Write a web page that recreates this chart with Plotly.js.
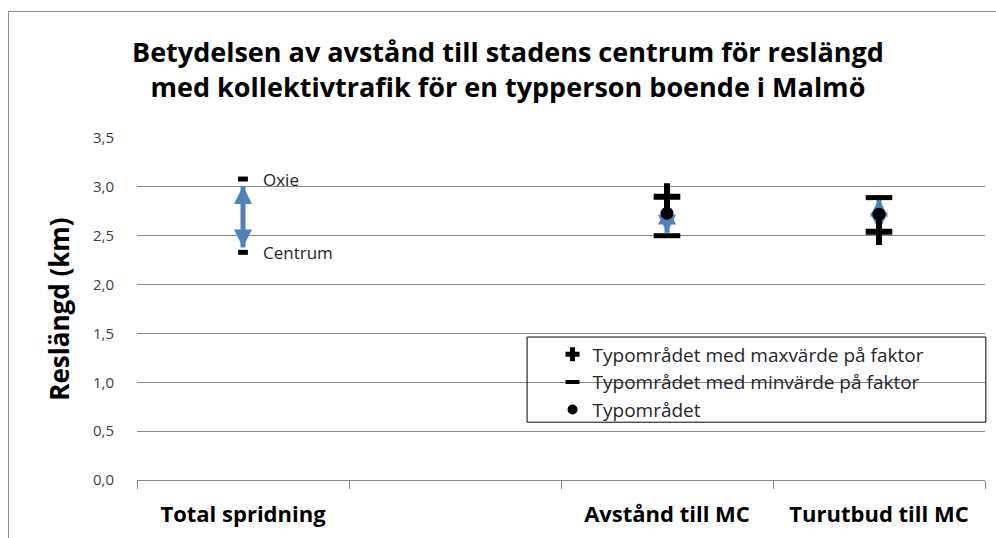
<!DOCTYPE html>
<html>
<head>
<meta charset="utf-8">
<script src="https://cdn.plot.ly/plotly-3.0.1.min.js"></script>
<style>
  html, body { margin: 0; padding: 0; background: #fff; overflow: hidden; }
  #chart { width: 996px; height: 538px; position: relative; }
  #frame { position: absolute; left: 8px; top: 11px; width: 1000px; height: 540px;
           border-left: 1px solid #8c8c8c; border-top: 1px solid #8c8c8c; pointer-events: none; }
</style>
</head>
<body>
<div id="chart"></div>
<div id="frame"></div>
<script>
// Categories on the x axis (the second one is an empty slot)
const categories = ["Total spridning", " ", "Avstånd till MC", "Turutbud till MC"];

// Total spread: end points
const spreadCats = ["Total spridning", "Total spridning"];
const spreadValues = [3.08, 2.33];
const spreadLabels = ["Oxie", "Centrum"];

// Factor series
const factorCats = ["Avstånd till MC", "Turutbud till MC"];
const maxValues = [2.90, 2.54];   // Typområdet med maxvärde på faktor
const minValues = [2.50, 2.89];   // Typområdet med minvärde på faktor
const typValues = [2.73, 2.72];   // Typområdet
const seriesNames = ["Typområdet med maxvärde på faktor", "Typområdet med minvärde på faktor", "Typområdet"];

// Blue double arrows (tips)
const arrowCats = ["Total spridning", "Avstånd till MC", "Turutbud till MC"];
const arrowTop = [3.01, 2.80, 2.88];
const arrowBottom = [2.38, 2.53, 2.55];

const yTicks = [0, 0.5, 1, 1.5, 2, 2.5, 3, 3.5];

const FONT = "'Open Sans', sans-serif";
const BLUE = "#4F81BD";

// build arrow trace with gaps
const ax = [], ay = [], asym = [];
arrowCats.forEach((c, i) => {
  ax.push(c, c, null);
  ay.push(arrowTop[i], arrowBottom[i], null);
  asym.push("arrow-up", "arrow-down", "circle");
});

const maxMarker = { symbol: "cross-thin-open", size: 19, color: "#000", line: { color: "#000", width: 6 } };
const minMarker = { symbol: "line-ew-open", size: 19, color: "#000", line: { color: "#000", width: 5 } };
const typMarker = { symbol: "circle", size: 13, color: "#000" };

const traces = [
  {
    x: ax, y: ay, type: "scatter", mode: "lines+markers",
    line: { color: BLUE, width: 5 },
    marker: { symbol: asym, size: 18, color: BLUE },
    connectgaps: false, showlegend: false, hoverinfo: "skip"
  },
  {
    x: spreadCats, y: spreadValues, type: "scatter", mode: "markers",
    marker: { symbol: "line-ew-open", size: 7, color: "#000", line: { color: "#000", width: 5 } },
    showlegend: false
  },
  { x: factorCats, y: maxValues, type: "scatter", mode: "markers", name: seriesNames[0],
    legendgroup: "max", showlegend: false, marker: maxMarker },
  { x: factorCats, y: minValues, type: "scatter", mode: "markers", name: seriesNames[1],
    legendgroup: "min", showlegend: false, marker: minMarker },
  { x: factorCats, y: typValues, type: "scatter", mode: "markers", name: seriesNames[2],
    legendgroup: "typ", showlegend: false, marker: typMarker },
  // legend keys (smaller symbols, no data)
  { x: [null], y: [null], type: "scatter", mode: "markers", name: seriesNames[0], legendgroup: "max",
    marker: { symbol: "cross-thin-open", size: 10, color: "#000", line: { color: "#000", width: 5 } } },
  { x: [null], y: [null], type: "scatter", mode: "markers", name: seriesNames[1], legendgroup: "min",
    marker: { symbol: "line-ew-open", size: 10, color: "#000", line: { color: "#000", width: 4 } } },
  { x: [null], y: [null], type: "scatter", mode: "markers", name: seriesNames[2], legendgroup: "typ",
    marker: { symbol: "circle", size: 10, color: "#000" } }
];

const annotations = spreadCats.map((c, i) => ({
  x: c, y: spreadValues[i], xref: "x", yref: "y",
  text: spreadLabels[i], showarrow: false,
  xanchor: "left", yanchor: "middle", xshift: 18,
  font: { family: FONT, size: 17, color: "#262626" }
}));

const layout = {
  width: 996, height: 538,
  margin: { l: 137, r: 11, t: 138, b: 58 },
  paper_bgcolor: "#fff", plot_bgcolor: "#fff",
  separators: ", ",
  font: { family: FONT, color: "#262626" },
  title: {
    text: "<b>Betydelsen av avstånd till stadens centrum för reslängd<br>med kollektivtrafik för en typperson boende i Malmö</b>",
    font: { family: FONT, size: 27, color: "#000" },
    x: 0.51, xref: "container", xanchor: "center",
    y: 0.885, yref: "container", yanchor: "top"
  },
  xaxis: {
    type: "category", categoryorder: "array", categoryarray: categories,
    range: [-0.5, 3.5], showgrid: false, zeroline: false,
    showline: true, linecolor: "#868686", linewidth: 1,
    ticks: "outside", tickson: "boundaries", ticklen: 8, tickcolor: "#868686",
    tickfont: { family: FONT, size: 22, color: "#000", weight: "bold" },
    ticklabelstandoff: 15, fixedrange: true
  },
  yaxis: {
    range: [0, 3.5], tickvals: yTicks, tickformat: ".1f",
    showgrid: true, gridcolor: "#868686", gridwidth: 1, zeroline: false,
    showline: false, ticks: "",
    tickfont: { family: FONT, size: 15, color: "#404040" },
    ticklabelstandoff: 22,
    title: { text: "<b>Reslängd (km)</b>", font: { family: FONT, size: 26, color: "#000" }, standoff: 15 },
    fixedrange: true
  },
  legend: {
    x: 0.490, y: 0.423, xanchor: "left", yanchor: "top",
    bgcolor: "rgba(0,0,0,0)", borderwidth: 0,
    font: { family: FONT, size: 19, color: "#262626" },
    tracegroupgap: 0, itemsizing: "trace", itemwidth: 30
  },
  annotations: annotations,
  shapes: [
    { type: "rect", xref: "paper", yref: "paper", x0: 0.46, x1: 1.001, y0: 0.169, y1: 0.418,
      line: { color: "#000", width: 1 }, fillcolor: "rgba(0,0,0,0)", layer: "above" }
  ]
};

Plotly.newPlot("chart", traces, layout, { displayModeBar: false, staticPlot: true });
</script>
</body>
</html>
